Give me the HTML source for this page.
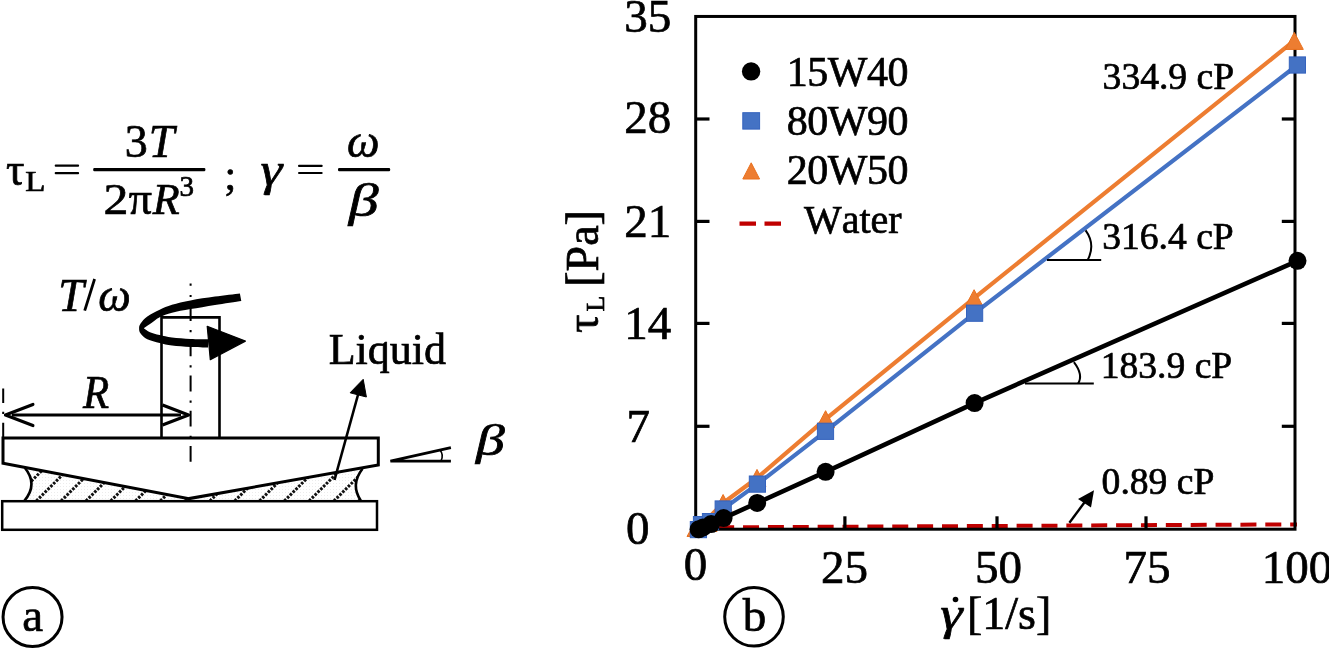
<!DOCTYPE html>
<html><head><meta charset="utf-8"><style>
html,body{margin:0;padding:0;background:#fff;width:1329px;height:648px;overflow:hidden}
svg{display:block;will-change:transform}
text{font-family:"Liberation Serif",serif;fill:#000;stroke:#000;stroke-width:0.7px;paint-order:stroke}
.i{font-style:italic}
</style></head><body>
<svg width="1329" height="648" viewBox="0 0 1329 648">
<defs>
<pattern id="dots" width="3" height="3" patternUnits="userSpaceOnUse">
<rect width="3" height="3" fill="#fff"/><rect x="0" y="0" width="1" height="1" fill="#ececec"/>
</pattern>
<clipPath id="liq"><path d="M24.5,467.8 L189,498.6 L362.5,468.8 Q350,484.8 361,501 L24.5,501 Q38.5,484.5 24.5,467.8 Z"/></clipPath>
</defs>

<!-- ===== FORMULA ===== -->
<g id="formula">
<text x="5.9" y="184.5" font-size="46">τ</text>
<g transform="translate(25.3 191.3) scale(1.1 1)"><text x="0" y="0" font-size="30">L</text></g>
<rect x="54.7" y="164.5" width="24.4" height="2.3" rx="1"/>
<rect x="54.7" y="171.9" width="24.4" height="2.3" rx="1"/>
<rect x="93.2" y="168.1" width="112.2" height="3.1" rx="1.2"/>
<text x="124.8" y="156.7" font-size="46">3</text>
<text x="148.7" y="156.7" font-size="46" class="i">T</text>
<g transform="translate(103.4 214.4) scale(1.12 1)"><text x="0" y="0" font-size="44.5">2</text></g>
<text x="128.7" y="214.4" font-size="46">π</text>
<text x="152.7" y="214.4" font-size="44" class="i">R</text>
<text x="179.6" y="195.9" font-size="29">3</text>
<text x="224.4" y="189" font-size="42">;</text>
<g transform="translate(260.4 184.8) scale(1.2 1)"><text x="0" y="0" font-size="46" class="i">γ</text></g>
<rect x="298" y="164.7" width="24.7" height="2.2" rx="1"/>
<rect x="298" y="171.9" width="24.7" height="2.2" rx="1"/>
<rect x="338" y="168.1" width="52.2" height="3.1" rx="1.2"/>
<text x="347.1" y="157" font-size="46" class="i">ω</text>
<g transform="translate(348.7 216.3) scale(1.3 1)"><text x="0" y="0" font-size="46" class="i">β</text></g>
</g>

<!-- ===== DIAGRAM ===== -->
<g id="diagram" fill="none" stroke="#000">
<!-- liquid -->
<g clip-path="url(#liq)">
<rect x="20" y="460" width="350" height="45" fill="url(#dots)" stroke="none"/>
<g stroke="#111" stroke-width="3" stroke-dasharray="2.6 1.4">
<path d="M11.5,501 l40,-40 M36.3,501 l40,-40 M61.1,501 l40,-40 M85.9,501 l40,-40 M110.7,501 l40,-40 M135.5,501 l40,-40 M160.3,501 l40,-40 M185.1,501 l40,-40 M209.9,501 l40,-40 M234.7,501 l40,-40 M259.5,501 l40,-40 M284.3,501 l40,-40 M309.1,501 l40,-40 M333.9,501 l40,-40 M358.7,501 l40,-40"/>
</g>
</g>
<!-- menisci -->
<path d="M24.8,467.8 Q38.5,484.5 24.2,501" stroke-width="2.6"/>
<path d="M362.5,468.8 Q350,484.8 361,501" stroke-width="2.6"/>
<!-- top plate with cone -->
<path d="M3,438 L378.3,438 L378.3,465 L189,498.6 L3,463.2 Z" stroke-width="3" stroke-linejoin="miter"/>
<!-- bottom plate -->
<rect x="2.2" y="501.2" width="374.8" height="28.6" stroke-width="2.5"/>
<!-- shaft -->
<path d="M161.5,438 L161.5,317.4 L219.5,317.4 L219.5,438" stroke-width="2.6"/>
<!-- center dash-dot -->
<line x1="190.6" y1="283.4" x2="190.6" y2="461.7" stroke-width="2" stroke-dasharray="15.8 9.1 2.2 8.1" stroke-dashoffset="13.4"/>
<!-- left dash-dot -->
<line x1="3.2" y1="388.5" x2="3.2" y2="438" stroke-width="2" stroke-dasharray="14.4 8.8 2.2 8.8 30"/>
<!-- R dimension arrow -->
<line x1="12" y1="415" x2="181" y2="415" stroke-width="2.8"/>
<path d="M32.9,404.4 L5.5,415.1 L32.9,425.6" stroke-width="3.2" stroke-linecap="round" stroke-linejoin="round"/>
<path d="M162.5,405 L188.5,415.1 L162.5,425.1" stroke-width="3.2" stroke-linecap="butt" stroke-linejoin="round"/>
<!-- torque arrow -->
<path d="M239.9,293.4 C235.8,293.9 223.2,295.4 215.0,296.6 C206.8,297.8 197.7,299.0 190.5,300.4 C183.3,301.8 177.1,303.1 172.0,304.7 C166.9,306.2 163.8,307.7 159.7,309.7 C155.6,311.7 150.5,314.2 147.3,316.5 C144.1,318.8 142.0,321.5 140.6,323.5 C139.2,325.5 139.1,326.8 139.1,328.4 C139.1,330.0 139.2,331.6 140.6,333.4 C142.0,335.2 144.1,337.7 147.3,339.3 C150.5,340.9 155.6,342.0 159.7,343.0 C163.8,344.0 166.9,344.9 172.0,345.5 C177.1,346.1 184.5,346.6 190.5,346.9 C196.5,347.2 205.1,347.3 208.0,347.4 L208.0,339.3 C205.1,339.2 196.5,339.2 190.5,338.9 C184.5,338.6 177.1,338.0 172.0,337.4 C166.9,336.8 163.4,335.9 159.7,335.0 C156.0,334.1 152.7,333.3 150.0,332.2 C147.3,331.1 144.8,328.9 143.8,328.3 C144.8,327.6 147.3,325.8 150.0,324.0 C152.7,322.2 156.0,319.2 159.7,317.3 C163.4,315.4 166.9,314.2 172.0,312.8 C177.1,311.4 183.3,310.4 190.5,309.1 C197.7,307.8 206.5,306.3 215.0,304.9 C223.5,303.5 236.9,301.6 241.3,300.9 Z" fill="#000" stroke="none"/>
<path d="M207.2,326.3 L245.4,341.1 L210.3,359.7 Z" fill="#000" stroke="#000" stroke-width="1.2" stroke-linejoin="round"/>
<!-- Liquid arrow -->
<line x1="334.5" y1="480" x2="358.5" y2="393" stroke-width="2.6"/>
<path d="M363.2,379.3 L350.1,392.8 L366.4,397 Z" fill="#000" stroke="#000" stroke-width="1"/>
<!-- beta angle -->
<path d="M450.9,447.7 L390.4,461.2 L450.9,461.2" stroke-width="2.8"/>
<path d="M440,450 Q444,455 441,461" stroke-width="1.6"/>
</g>
<g transform="translate(83.1 408.4) scale(0.93 1)"><text x="0" y="0" font-size="46" class="i">R</text></g>
<text x="58.2" y="310.7" font-size="46" class="i">T</text>
<line x1="84.7" y1="310.6" x2="94.6" y2="279" stroke="#000" stroke-width="2.8"/>
<text x="98.3" y="310.9" font-size="46" class="i">ω</text>
<text x="328.7" y="364.4" font-size="44">Liquid</text>
<g transform="translate(475.9 454.9) scale(1.3 1)"><text x="0" y="0" font-size="44.4" class="i">β</text></g>

<!-- circle labels -->
<circle cx="32.55" cy="617" r="29.5" fill="none" stroke="#000" stroke-width="3"/>
<text x="22.2" y="631" font-size="47">a</text>
<circle cx="754" cy="616.8" r="29.3" fill="none" stroke="#000" stroke-width="3"/>
<text x="742.7" y="631" font-size="47">b</text>

<!-- ===== CHART ===== -->
<g id="chart">
<!-- water dashed -->
<line x1="693.3" y1="527.5" x2="1297" y2="524.4" stroke="#c00000" stroke-width="4" stroke-dasharray="16 8.87"/>
<!-- axes -->
<rect x="695.7" y="16.45" width="599.3" height="512.75" fill="none" stroke="#000" stroke-width="3"/>
<g stroke="#000" stroke-width="3.2">
<line x1="695.6" y1="426.3" x2="709.5" y2="426.3"/>
<line x1="695.6" y1="323.4" x2="709.5" y2="323.4"/>
<line x1="695.6" y1="221.4" x2="709.5" y2="221.4"/>
<line x1="695.6" y1="119" x2="709.5" y2="119"/>
<line x1="1294.8" y1="426.3" x2="1281.8" y2="426.3"/>
<line x1="1294.8" y1="323.4" x2="1281.8" y2="323.4"/>
<line x1="1294.8" y1="221.4" x2="1281.8" y2="221.4"/>
<line x1="1294.8" y1="119" x2="1281.8" y2="119"/>
<line x1="844.9" y1="528.8" x2="844.9" y2="516.3"/>
<line x1="997" y1="528.8" x2="997" y2="516.3"/>
<line x1="1146" y1="528.8" x2="1146" y2="516.3"/>
</g>
<!-- orange series -->
<polyline fill="none" stroke="#ED7D31" stroke-width="4.2" stroke-linejoin="round" points="696,532 699,526 708,518.5 723.2,503 757,478 825.6,419.2 974.1,298.2 1294,40.9"/>
<g fill="#ED7D31" stroke="#E9701D" stroke-width="1" stroke-linejoin="miter">
<path d="M687,536.5 L696,520 L705,536.5Z"/>
<path d="M699,531.5 L708,515 L717,531.5Z"/>
<path d="M714.1,511.5 L723.1,494.5 L732.1,511.5Z"/>
<path d="M748,486.4 L757,469.4 L766,486.4Z"/>
<path d="M816.6,427.7 L825.6,410.7 L834.6,427.7Z"/>
<path d="M965.1,306.7 L974.1,289.7 L983.1,306.7Z"/>
<path d="M1285.3,49.4 L1294.3,32.4 L1303.3,49.4Z"/>
</g>
<!-- blue series -->
<polyline fill="none" stroke="#4472C4" stroke-width="4.2" stroke-linejoin="round" points="698.3,529.5 701.5,524.6 710.5,521.6 723.2,509 757.4,484.1 825.5,431.3 974.6,313.2 1297.4,65"/>
<g fill="#4472C4" stroke="#3563BE" stroke-width="1">
<rect x="690.3" y="521.5" width="16.2" height="16.2"/>
<rect x="693.4" y="516.5" width="16.2" height="16.2"/>
<rect x="702.4" y="513.5" width="16.2" height="16.2"/>
<rect x="715.1" y="500.9" width="16.2" height="16.2"/>
<rect x="749.3" y="476.0" width="16.2" height="16.2"/>
<rect x="817.4" y="423.2" width="16.2" height="16.2"/>
<rect x="966.5" y="305.1" width="16.2" height="16.2"/>
<rect x="1289.3" y="56.9" width="16.2" height="16.2"/>
</g>
<!-- black series -->
<polyline fill="none" stroke="#000" stroke-width="4.6" stroke-linejoin="round" points="698.6,529.3 703,527.5 711.1,524.1 723.6,518.1 757.2,502.9 825.6,471.8 974.6,403.1 1297.5,260.8"/>
<g fill="#000">
<circle cx="698.6" cy="529.3" r="9"/>
<circle cx="703" cy="527.5" r="9"/>
<circle cx="711.1" cy="524.1" r="9"/>
<circle cx="723.6" cy="518.1" r="9"/>
<circle cx="757.2" cy="502.9" r="9"/>
<circle cx="825.6" cy="471.8" r="9"/>
<circle cx="974.6" cy="403.1" r="9"/>
<circle cx="1297.5" cy="260.8" r="9"/>
</g>
<!-- annotations -->
<g fill="none" stroke="#000">
<line x1="1047" y1="260" x2="1101.2" y2="260" stroke-width="2"/>
<path d="M1085.6,230.3 Q1095.8,244.3 1087.7,260" stroke-width="2"/>
<line x1="1025" y1="383.5" x2="1093.8" y2="383.5" stroke-width="2"/>
<path d="M1073.9,362.2 Q1083.6,375 1078.1,383.5" stroke-width="2"/>
<line x1="1069.4" y1="522.8" x2="1087" y2="499" stroke-width="2.4"/>
</g>
<path d="M1094,490.2 L1078,499 L1091,507.6 Z" fill="#000"/>
<!-- tick labels -->
<g font-size="47">
<text x="624.3" y="32">35</text>
<text x="624.3" y="133.4">28</text>
<text x="624.3" y="236.8">21</text>
<text x="624.3" y="338.8">14</text>
<text x="626.6" y="441.7">7</text>
<text x="626.1" y="544.3">0</text>
<text x="695.5" y="580" text-anchor="middle">0</text>
<text x="844.6" y="583.4" text-anchor="middle">25</text>
<text x="998.4" y="583.4" text-anchor="middle">50</text>
<text x="1147" y="583.4" text-anchor="middle">75</text>
<text x="1297" y="583.4" text-anchor="middle">100</text>
</g>
<!-- legend -->
<circle cx="751.1" cy="71.4" r="9.2" fill="#000"/>
<rect x="742.8" y="112.7" width="16.8" height="16.4" fill="#4472C4" stroke="#3563BE" stroke-width="1"/>
<path d="M742.8,179 L751.2,162.8 L759.6,179Z" fill="#ED7D31" stroke="#E9701D" stroke-width="1"/>
<line x1="739.5" y1="223.6" x2="781" y2="223.6" stroke="#c00000" stroke-width="4.1" stroke-dasharray="16.5 8.5"/>
<g font-size="42" letter-spacing="-0.5">
<text x="786.8" y="85.5">15W40</text>
<text x="786.8" y="134.6">80W90</text>
<text x="786.8" y="184.2">20W50</text>
<text x="803.9" y="233.2" font-size="40" letter-spacing="0" style="font-kerning:none">Water</text>
</g>
<g font-size="37.6">
<text x="1102.6" y="88.6">334.9 cP</text>
<text x="1102.2" y="249.2">316.4 cP</text>
<text x="1100.7" y="378.2">183.9 cP</text>
<text x="1101.6" y="494.4">0.89 cP</text>
</g>
<!-- axis titles -->
<g transform="translate(940.2 629) scale(1.23 1)"><text x="0" y="0" font-size="46" class="i">γ</text></g>
<circle cx="955.5" cy="599.5" r="2.8" fill="#000"/>
<text x="967" y="629" font-size="46">[1/s]</text>
<g transform="translate(597.5 333) rotate(-90)">
<text x="0" y="0" font-size="46">τ</text>
<text x="21.5" y="6.9" font-size="25.5">L</text>
<text x="46.3" y="0" font-size="46">[Pa]</text>
</g>
</g>
</svg>
</body></html>
